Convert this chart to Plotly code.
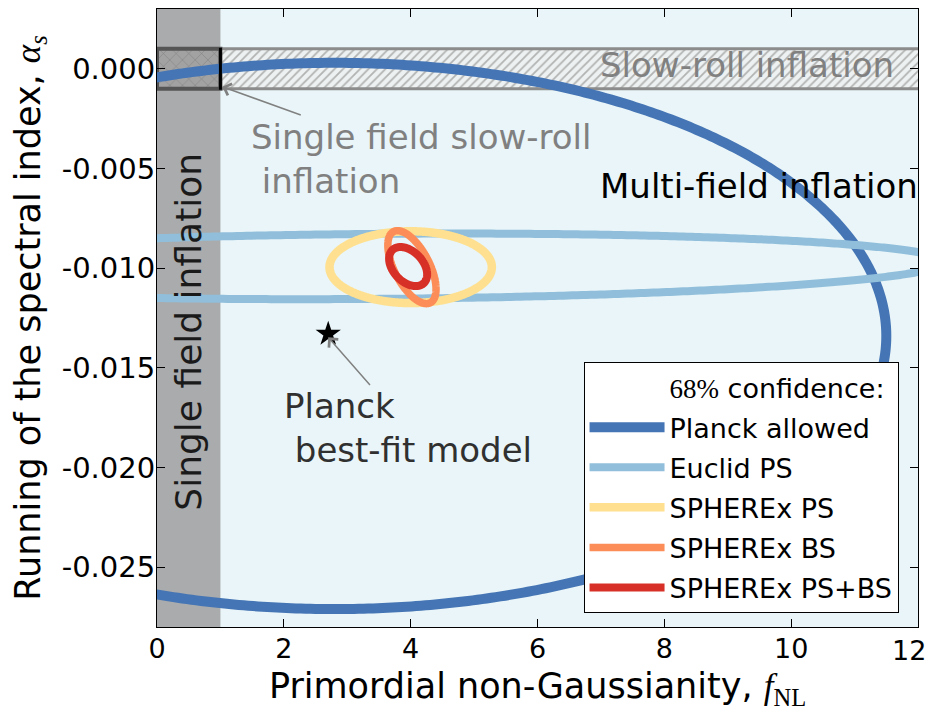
import numpy as np
import plotly.graph_objects as go

# ---- data ----
contour_names = ["Planck allowed", "Euclid PS", "SPHEREx PS", "SPHEREx BS", "SPHEREx PS+BS"]
center_fnl = [2.8, 3.5, 4.0, 4.02, 3.96]
center_alpha = [-0.0134, -0.00991, -0.00995, -0.00995, -0.00992]
halfwidth_fnl = [8.7, 8.93, 1.28, 0.38, 0.30]
halfwidth_alpha = [0.0137, 0.001646, 0.0018, 0.00183, 0.00098]
correlation = [0.0, 0.137, 0.0, -0.6, -0.4]
colors = ["#4575b4", "#91bfdb", "#fee090", "#fc8d59", "#d73027"]
line_widths = [10, 8, 8.5, 7.5, 8]

bestfit_fnl = [2.7]
bestfit_alpha = [-0.0133]

slowroll_band = [-0.001, 0.001]
single_field_max_fnl = 1.0

x_ticks = [0, 2, 4, 6, 8, 10, 12]
x_tick_labels = ["0", "2", "4", "6", "8", "10", "12"]
y_ticks = [0.0, -0.005, -0.010, -0.015, -0.020, -0.025]
y_tick_labels = ["0.000", "-0.005", "-0.010", "-0.015", "-0.020", "-0.025"]

FONT = "DejaVu Sans"

fig = go.Figure()

# slow-roll hatched band
fig.add_trace(go.Scatter(
    x=[single_field_max_fnl, 12.5, 12.5, single_field_max_fnl, single_field_max_fnl],
    y=[slowroll_band[0], slowroll_band[0], slowroll_band[1], slowroll_band[1], slowroll_band[0]],
    mode="lines", fill="toself", fillcolor="rgba(0,0,0,0)",
    fillpattern=dict(shape="/", fgcolor="#737373", bgcolor="#eef1f1", size=6, solidity=0.28),
    line=dict(color="#8c8c8c", width=3), showlegend=False, hoverinfo="skip"))
# single-field slow-roll crosshatched box
fig.add_trace(go.Scatter(
    x=[0, single_field_max_fnl, single_field_max_fnl, 0, 0],
    y=[slowroll_band[0], slowroll_band[0], slowroll_band[1], slowroll_band[1], slowroll_band[0]],
    mode="lines", fill="toself", fillcolor="rgba(0,0,0,0)",
    fillpattern=dict(shape="x", fgcolor="#606060", bgcolor="#a2a2a2", size=9, solidity=0.12),
    line=dict(color="#555555", width=4), showlegend=False, hoverinfo="skip"))

# legend heading as a blank entry
fig.add_trace(go.Scatter(
    x=[None], y=[None], mode="lines",
    name='<span style="font-family:Liberation Serif">68%</span> confidence:',
    line=dict(color="rgba(0,0,0,0)", width=0), legendgroup="head", hoverinfo="skip"))

t = np.linspace(0, 2 * np.pi, 721)
for i, name in enumerate(contour_names):
    rho = correlation[i]
    xs = center_fnl[i] + halfwidth_fnl[i] * np.cos(t)
    ys = center_alpha[i] + halfwidth_alpha[i] * (rho * np.cos(t) + np.sqrt(1 - rho ** 2) * np.sin(t))
    fig.add_trace(go.Scatter(x=xs, y=ys, mode="lines", name=name, legendgroup=name,
                             line=dict(color=colors[i], width=line_widths[i], simplify=False),
                             hoverinfo="skip"))

fig.add_trace(go.Scatter(x=bestfit_fnl, y=bestfit_alpha, mode="markers",
                         marker=dict(symbol="star", size=19, color="black"),
                         showlegend=False))

shapes = [
    dict(type="rect", xref="x", yref="paper", x0=0, x1=single_field_max_fnl, y0=0, y1=1,
         fillcolor="#a9abac", line=dict(width=0), layer="below"),
    dict(type="line", xref="x", yref="y", x0=single_field_max_fnl, x1=single_field_max_fnl,
         y0=slowroll_band[0] - 0.00005, y1=slowroll_band[1] + 0.00005,
         line=dict(color="black", width=3)),
]

gray = "#808080"
annotations = [
    dict(x=9.3, y=0.0002, xref="x", yref="y", text="Slow-roll inflation", showarrow=False,
         font=dict(size=34, color=gray, family=FONT), xanchor="center", yanchor="middle"),
    dict(x=1.03, y=-0.0009, ax=4.17, ay=-0.0045, xref="x", yref="y", axref="x", ayref="y",
         text="Single field slow-roll<br>\u00a0inflation", align="left",
         font=dict(size=34, color=gray, family=FONT),
         showarrow=True, arrowhead=4, arrowsize=1.6, arrowwidth=1.5, arrowcolor=gray),
    dict(x=9.5, y=-0.0059, xref="x", yref="y", text="Multi-field inflation", showarrow=False,
         font=dict(size=34, color="black", family=FONT), xanchor="center", yanchor="middle"),
    dict(x=0.5, y=-0.0132, xref="x", yref="y", text="Single field inflation", showarrow=False,
         textangle=-90, font=dict(size=36, color="#1a1a1a", family=FONT),
         xanchor="center", yanchor="middle"),
    dict(x=2.70, y=-0.01347, ax=3.96, ay=-0.01804, xref="x", yref="y", axref="x", ayref="y",
         text="Planck<br>\u00a0best-fit model", align="left",
         font=dict(size=34, color="#303030", family=FONT),
         showarrow=True, arrowhead=4, arrowsize=1.6, arrowwidth=1.5, arrowcolor=gray),
    # last x tick label, nudged left so it stays inside the page
    dict(x=x_ticks[-1], y=0, xref="x", yref="paper", text=x_tick_labels[-1], showarrow=False,
         font=dict(size=27, color="black", family=FONT), xanchor="center", yanchor="top",
         xshift=-9, yshift=-6),
]

# the page places the figure 8 px in from the top-left corner
fig.update_layout(
    width=925, height=704,
    margin=dict(l=149, r=15, t=1, b=85),
    paper_bgcolor="white", plot_bgcolor="#e9f5f8",
    font=dict(family=FONT, color="black"),
    shapes=shapes, annotations=annotations,
    legend=dict(
        x=0.5605, y=0.4288, xanchor="left", yanchor="top",
        bgcolor="white", bordercolor="black", borderwidth=1,
        font=dict(size=27, family=FONT, color="black"),
        itemwidth=75, traceorder="grouped", tracegroupgap=2,
    ),
    xaxis=dict(range=[0, 12], tickvals=x_ticks, ticktext=x_tick_labels[:-1] + [""],
               ticks="inside", ticklen=8, tickcolor="black",
               showline=True, linecolor="black", linewidth=1, mirror="ticks",
               showgrid=False, zeroline=False, tickfont=dict(size=27, family=FONT),
               automargin=False, ticklabelstandoff=-2,
               title=dict(text='Primordial non-Gaussianity, <span style="font-family:Liberation Serif"><i>f</i><sub>NL</sub></span>',
                          font=dict(size=35, family=FONT), standoff=10)),
    yaxis=dict(range=[-0.028, 0.003], tickvals=y_ticks, ticktext=y_tick_labels,
               ticks="inside", ticklen=8, tickcolor="black",
               showline=True, linecolor="black", linewidth=1, mirror="ticks",
               showgrid=False, zeroline=False, tickfont=dict(size=29, family=FONT),
               ticklabelstandoff=-5, automargin=False,
               title=dict(text='Running of the spectral index, <span style="font-family:Liberation Serif"><i>α</i><sub><i>s</i></sub></span>',
                          font=dict(size=35, family=FONT), standoff=12)),
)

fig.write_html("out.html")
